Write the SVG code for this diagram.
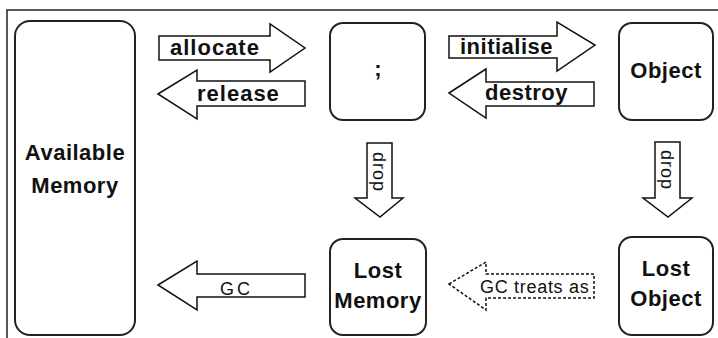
<svg xmlns="http://www.w3.org/2000/svg" width="718" height="338" viewBox="0 0 718 338">
  <style>
    .box { fill: #fff; stroke: #222; stroke-width: 2; }
    .arrow { fill: #fff; stroke: #111; stroke-width: 1.5; stroke-linejoin: miter; }
    .dashed { stroke-dasharray: 3 2; }
    .lbl { font-family: "Liberation Sans", Arial, sans-serif; font-weight: bold; font-size: 22px; fill: #111; }
    .node { font-family: "Liberation Sans", Arial, sans-serif; font-weight: bold; font-size: 22px; fill: #111; text-anchor: middle; }
    .thin { font-family: "Liberation Sans", Arial, sans-serif; font-size: 18px; fill: #111; }
  </style>
  <rect width="718" height="338" fill="#fff"/>
  <!-- outer frame: top and left edges only -->
  <path d="M7,338 V10 H718" fill="none" stroke="#222" stroke-width="1.5"/>

  <g id="available-memory">
    <rect class="box" x="15" y="21" width="120" height="314" rx="15"/>
    <text class="node" x="75" y="160" letter-spacing="0.5">Available</text>
    <text class="node" x="75" y="193" letter-spacing="0.5">Memory</text>
  </g>
  <g id="pointer">
    <rect class="box" x="330" y="23" width="95" height="97" rx="13"/>
    <text class="node" x="378" y="76" font-size="26">;</text>
  </g>
  <g id="object">
    <rect class="box" x="619" y="23" width="94" height="97" rx="13"/>
    <text class="node" x="666" y="78" letter-spacing="0.5">Object</text>
  </g>
  <g id="lost-memory">
    <rect class="box" x="330" y="239" width="96" height="96" rx="13"/>
    <text class="node" x="378" y="278" letter-spacing="0.5">Lost</text>
    <text class="node" x="378" y="308" letter-spacing="0.5">Memory</text>
  </g>
  <g id="lost-object">
    <rect class="box" x="619" y="237" width="94" height="98" rx="13"/>
    <text class="node" x="666" y="276" letter-spacing="0.5">Lost</text>
    <text class="node" x="666" y="306" letter-spacing="0.5">Object</text>
  </g>

  <g id="connectors">
    <!-- allocate -->
    <polygon class="arrow" points="159,36 270,36 270,24 305,48 270,72 270,60 159,60"/>
    <text class="lbl" x="170" y="55" letter-spacing="1">allocate</text>
    <!-- release -->
    <polygon class="arrow" points="158,94 197,70 197,81 305,81 305,106 197,106 197,119"/>
    <text class="lbl" x="197" y="101" letter-spacing="1">release</text>
    <!-- initialise -->
    <polygon class="arrow" points="449,36 557,36 557,22 595,45 557,71 557,58 449,58"/>
    <text class="lbl" x="460" y="54" letter-spacing="0.5">initialise</text>
    <!-- destroy -->
    <polygon class="arrow" points="449,93 486,69 486,82 594,82 594,106 486,106 486,118"/>
    <text class="lbl" x="485" y="100" letter-spacing="0.5">destroy</text>
    <!-- drop: pointer to lost memory -->
    <polygon class="arrow" points="367,143 392,143 392,198 403,198 380,217 355,198 367,198"/>
    <text class="thin" transform="translate(373,152) rotate(90)" letter-spacing="1">drop</text>
    <!-- drop: object to lost object -->
    <polygon class="arrow" points="655,142 680,142 680,198 692,198 668,217 643,198 655,198"/>
    <text class="thin" transform="translate(661,150) rotate(90)" letter-spacing="1">drop</text>
    <!-- GC -->
    <polygon class="arrow" points="158,285 197,261 197,274 305,274 305,297 197,297 197,310"/>
    <text class="thin" x="220" y="295" font-size="19" letter-spacing="3">GC</text>
    <!-- GC treats as -->
    <polygon class="arrow dashed" points="449,284 486,262 486,274 594,274 594,298 486,298 486,310"/>
    <text class="thin" x="480" y="293" letter-spacing="0.7">GC treats as</text>
  </g>
</svg>
